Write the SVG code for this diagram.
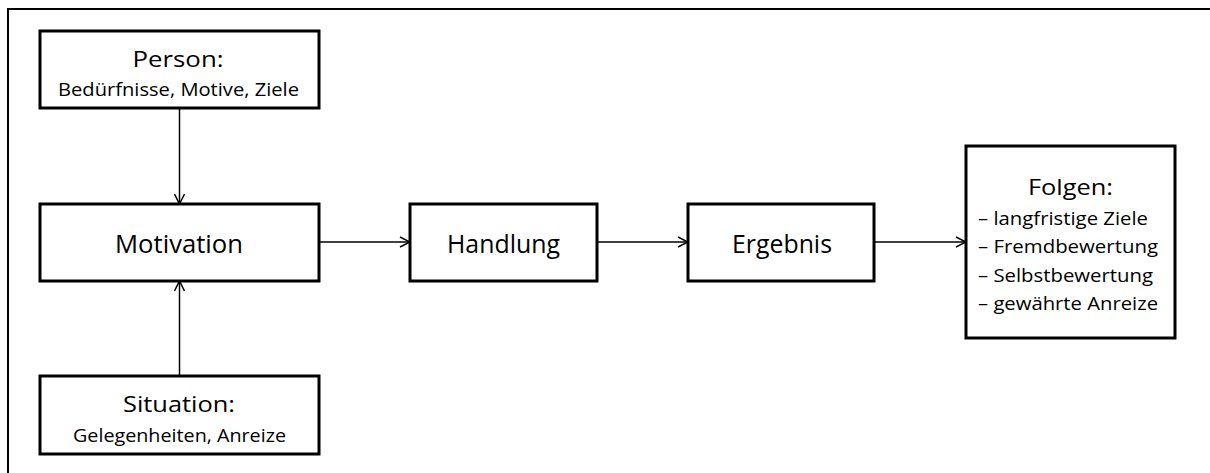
<svg xmlns="http://www.w3.org/2000/svg" width="1210" height="473" viewBox="0 0 1210 473">
<style>
.box{fill:#fff;stroke:#000;stroke-width:3}
.t{font-family:"Open Sans","Liberation Sans",sans-serif;fill:#000;text-anchor:middle}
.l{font-family:"Open Sans","Liberation Sans",sans-serif;fill:#000;font-size:19px}
.c{stroke:#000;stroke-width:1.5;fill:none}
</style>
<defs>
<marker id="arr" markerUnits="userSpaceOnUse" markerWidth="12" markerHeight="12" refX="11" refY="6" orient="auto">
<path d="M1,1 L11,6 L1,11" fill="none" stroke="#000" stroke-width="1.5"/>
</marker>
</defs>
<rect width="1210" height="473" fill="#fff"/>
<rect id="frame" x="8" y="9" width="1220" height="480" fill="none" stroke="#000" stroke-width="2"/>
<g id="connectors">
<line class="c" x1="179.5" y1="108" x2="179.5" y2="204" marker-end="url(#arr)"/>
<line class="c" x1="179.5" y1="376" x2="179.5" y2="281" marker-end="url(#arr)"/>
<line class="c" x1="319" y1="242" x2="410" y2="242" marker-end="url(#arr)"/>
<line class="c" x1="597" y1="242" x2="688" y2="242" marker-end="url(#arr)"/>
<line class="c" x1="874" y1="242" x2="966" y2="242" marker-end="url(#arr)"/>
</g>
<g id="person">
<rect class="box" x="40" y="31" width="279" height="77"/>
<text class="t" x="178" y="67" font-size="21" textLength="91" lengthAdjust="spacingAndGlyphs">Person:</text>
<text class="t" x="178.5" y="96" font-size="18.5" textLength="241" lengthAdjust="spacingAndGlyphs">Bedürfnisse, Motive, Ziele</text>
</g>
<g id="motivation">
<rect class="box" x="40" y="204" width="279" height="77"/>
<text class="t" x="179" y="253" font-size="25.5" textLength="128" lengthAdjust="spacingAndGlyphs">Motivation</text>
</g>
<g id="situation">
<rect class="box" x="40" y="376" width="279" height="78"/>
<text class="t" x="179" y="412" font-size="21" textLength="112" lengthAdjust="spacingAndGlyphs">Situation:</text>
<text class="t" x="179.5" y="442" font-size="18.5" textLength="213" lengthAdjust="spacingAndGlyphs">Gelegenheiten, Anreize</text>
</g>
<g id="handlung">
<rect class="box" x="410" y="204" width="187" height="77"/>
<text class="t" x="503.5" y="253" font-size="25.5" textLength="113" lengthAdjust="spacingAndGlyphs">Handlung</text>
</g>
<g id="ergebnis">
<rect class="box" x="688" y="204" width="186" height="77"/>
<text class="t" x="782" y="253" font-size="25.5" textLength="100" lengthAdjust="spacingAndGlyphs">Ergebnis</text>
</g>
<g id="folgen">
<rect class="box" x="966" y="146" width="209" height="192"/>
<text class="t" x="1070.5" y="195" font-size="22" textLength="85" lengthAdjust="spacingAndGlyphs">Folgen:</text>
<text class="l" x="978" y="225" textLength="170" lengthAdjust="spacingAndGlyphs">– langfristige Ziele</text>
<text class="l" x="978" y="253" textLength="180" lengthAdjust="spacingAndGlyphs">– Fremdbewertung</text>
<text class="l" x="978" y="282" textLength="175" lengthAdjust="spacingAndGlyphs">– Selbstbewertung</text>
<text class="l" x="978" y="310" textLength="180" lengthAdjust="spacingAndGlyphs">– gewährte Anreize</text>
</g>
</svg>
